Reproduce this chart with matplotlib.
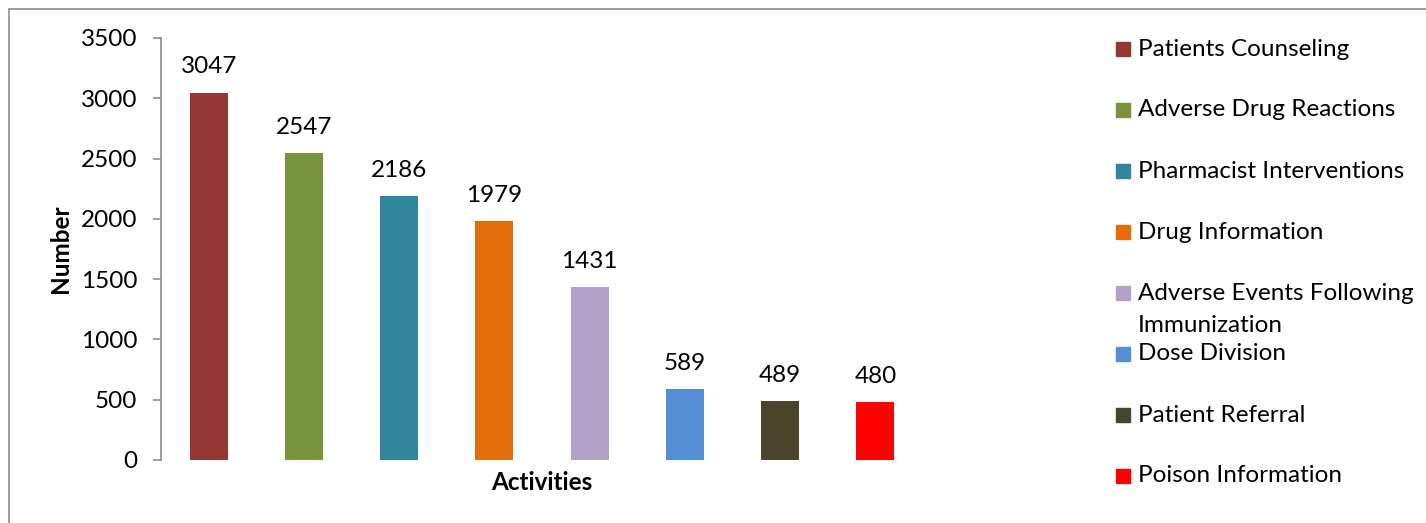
import matplotlib
matplotlib.use("Agg")
import matplotlib.pyplot as plt
from matplotlib.patches import Rectangle

categories = ["Patients Counseling", "Adverse Drug Reactions", "Pharmacist Interventions",
              "Drug Information", "Adverse Events Following\nImmunization", "Dose Division",
              "Patient Referral", "Poison Information"]
values = [3047, 2547, 2186, 1979, 1431, 589, 489, 480]
colors = ["#953735", "#77933C", "#31859C", "#E46C0A", "#B3A2C7", "#558ED5", "#4A452A", "#FF0000"]
yticks = [0, 500, 1000, 1500, 2000, 2500, 3000, 3500]

plt.rcParams['font.family'] = ['Lato', 'DejaVu Sans']
FS = 17.5

W, H = 1426, 523
fig = plt.figure(figsize=(W / 100, H / 100), dpi=100)

# outer border (left and top visible)
fig.patches.append(Rectangle((8.5 / W, -0.5), 2.0, 1.5 - 8.5 / H, transform=fig.transFigure,
                             fill=False, edgecolor="#8c8c8c", linewidth=1.2))

ax = fig.add_axes([161 / W, 1 - 460 / H, 762 / W, 422 / H])
x = list(range(len(values)))
bars = ax.bar(x, values, width=0.4, color=colors)
for xi, v in zip(x, values):
    ax.annotate(str(v), (xi, v), xytext=(0, 18.5), textcoords="offset points",
                ha="center", va="center", fontsize=FS)

ax.set_xlim(-0.5, len(values) - 0.5)
ax.set_ylim(0, 3500)
ax.set_yticks(yticks)
ax.set_xticks([])
for s in ["top", "right", "bottom"]:
    ax.spines[s].set_visible(False)
ax.spines["left"].set_color("#8c8c8c")
ax.spines["left"].set_linewidth(1.2)
ax.tick_params(axis="y", direction="out", length=6, width=1.2, color="#8c8c8c",
               pad=11, labelsize=FS)
ax.set_ylabel("Number", fontsize=FS, fontweight="bold", va="center")
ax.yaxis.set_label_coords(-101 / 762, 0.5)
ax.set_xlabel("Activities", fontsize=FS, fontweight="bold", va="center")
ax.xaxis.set_label_coords(0.5, -23 / 422)

# legend drawn manually to match the fixed-slot layout
for i, (c, lab) in enumerate(zip(colors, categories)):
    yc = 49 + 61 * i
    fig.patches.append(Rectangle((1116 / W, 1 - (yc + 7) / H), 14 / W, 14 / H,
                                 transform=fig.transFigure, color=c))
    lines = lab.split("\n")
    for j, ln in enumerate(lines):
        fig.text(1138 / W, 1 - (yc + 32 * j) / H, ln, fontsize=FS, va="center", ha="left")

fig.savefig("out.png", dpi=100)
